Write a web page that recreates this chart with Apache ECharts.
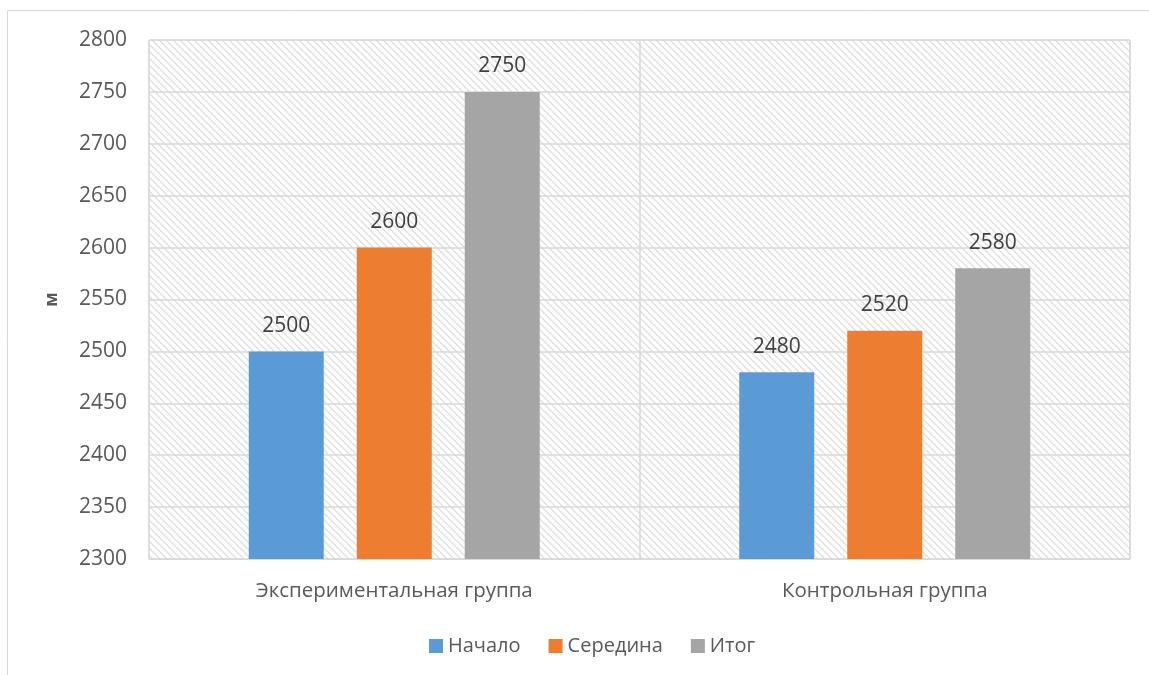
<!DOCTYPE html>
<html>
<head>
<meta charset="utf-8">
<script src="https://cdn.jsdelivr.net/npm/echarts@6/dist/echarts.min.js"></script>
<style>
  html, body { margin: 0; padding: 0; background: #fff; }
  #chart { width: 1149px; height: 675px; }
</style>
</head>
<body>
<div id="chart"></div>
<script>
// Distance covered (m) by each group at three checkpoints
const categories = ['Экспериментальная группа', 'Контрольная группа'];
const seriesNames = ['Начало', 'Середина', 'Итог'];
const startValues = [2500, 2480];
const middleValues = [2600, 2520];
const finalValues = [2750, 2580];
const colors = ['#5B9BD5', '#ED7D31', '#A5A5A5'];

// Diagonal hatch tile for the plot background
function hatchTile() {
  const p = 7;
  const c = document.createElement('canvas');
  c.width = p; c.height = p;
  const g = c.getContext('2d');
  g.fillStyle = '#ffffff';
  g.fillRect(0, 0, p, p);
  g.strokeStyle = '#dedede';
  g.lineWidth = 1.3;
  g.beginPath();
  g.moveTo(-2, -2); g.lineTo(p + 2, p + 2);
  g.moveTo(-2, p - 2); g.lineTo(2, p + 2);
  g.moveTo(p - 2, -2); g.lineTo(p + 2, 2);
  g.stroke();
  return c;
}

const font = '"Open Sans", "Noto Sans", sans-serif';
const chart = echarts.init(document.getElementById('chart'), null, { renderer: 'canvas' });

const seriesData = [startValues, middleValues, finalValues];

chart.setOption({
  animation: false,
  textStyle: { fontFamily: font },
  graphic: [{
    type: 'rect',
    shape: { x: 7.5, y: 10.5, width: 1200, height: 720 },
    style: { fill: 'none', stroke: '#d9d9d9', lineWidth: 1 },
    silent: true,
    z: -10
  }],
  grid: {
    left: 149, right: 19, top: 40, bottom: 116,
    show: true,
    borderColor: '#d9d9d9',
    borderWidth: 1,
    backgroundColor: { image: hatchTile(), repeat: 'repeat' }
  },
  legend: {
    data: seriesNames,
    bottom: 14,
    left: 424,
    itemWidth: 14,
    itemHeight: 14,
    itemGap: 28,
    icon: 'rect',
    textStyle: { color: '#595959', fontSize: 20, fontFamily: font }
  },
  xAxis: {
    type: 'category',
    data: categories,
    axisLine: { lineStyle: { color: '#d9d9d9' } },
    axisTick: { show: false },
    splitLine: { show: true, lineStyle: { color: '#d9d9d9', width: 1.5 } },
    axisLabel: { color: '#595959', fontSize: 20.5, margin: 22 }
  },
  yAxis: {
    type: 'value',
    min: 2300,
    max: 2800,
    interval: 50,
    name: 'м',
    nameLocation: 'middle',
    nameGap: 88,
    nameRotate: 90,
    nameTextStyle: { color: '#595959', fontSize: 17, fontWeight: 'bold' },
    axisLine: { show: false },
    axisTick: { show: false },
    splitLine: { lineStyle: { color: '#d9d9d9', width: 1.5 } },
    axisLabel: { color: '#595959', fontSize: 21, margin: 22, formatter: v => String(v) }
  },
  series: seriesNames.map((name, i) => ({
    name: name,
    type: 'bar',
    data: seriesData[i],
    barWidth: 75,
    barGap: '44%',
    itemStyle: { color: colors[i] },
    label: {
      show: true,
      position: 'top',
      distance: 15,
      color: '#404040',
      fontSize: 21
    }
  }))
});
</script>
</body>
</html>
